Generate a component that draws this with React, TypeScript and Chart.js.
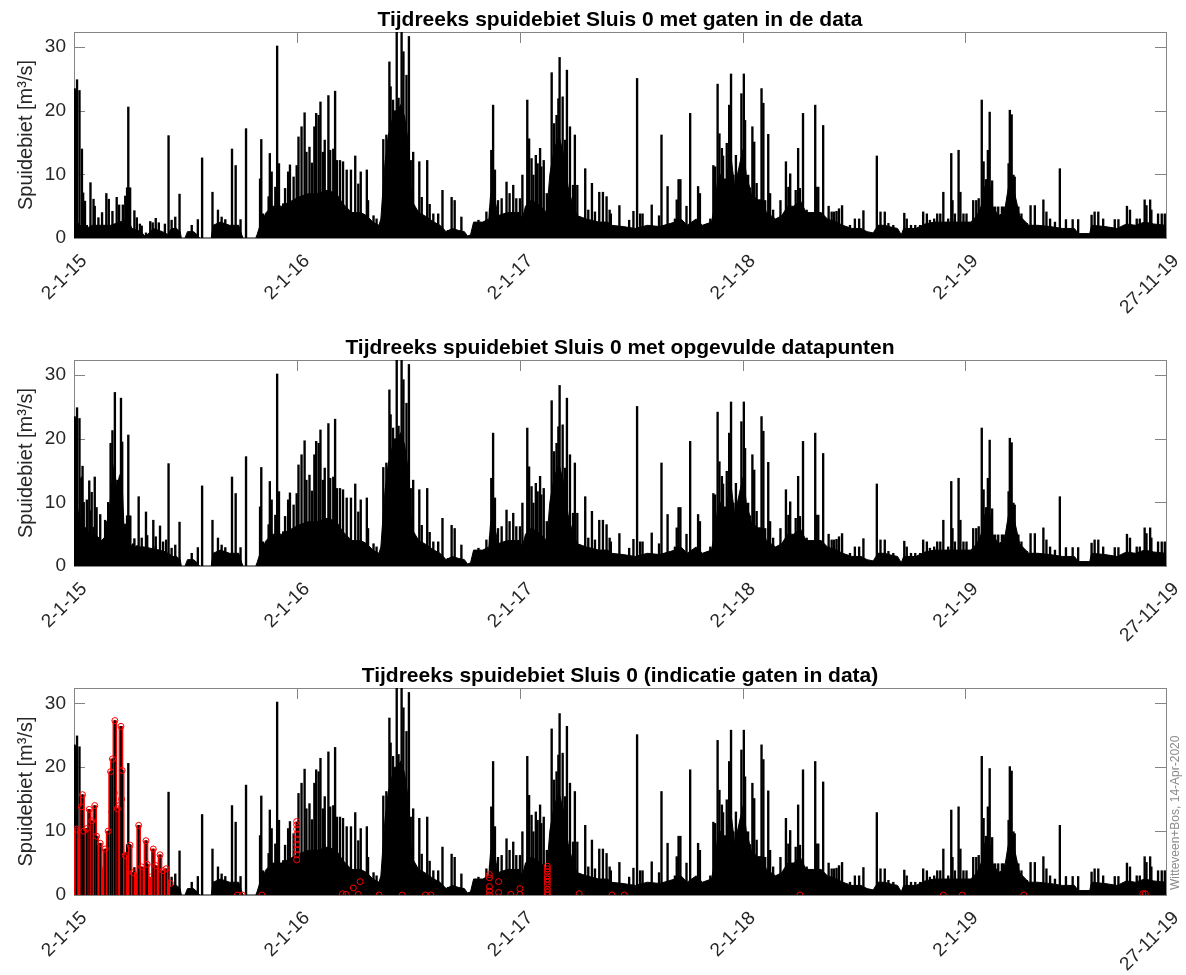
import React, { useEffect, useRef } from 'react';
import { Chart, registerables } from 'chart.js';

Chart.register(...registerables);

const FONT = '"Liberation Sans", Arial, Helvetica, sans-serif';

// x axis: days since 2 Jan 2015
const xTickDays = [0, 365, 731, 1096, 1461, 1790];
const xTickLabels = ['2-1-15', '2-1-16', '2-1-17', '2-1-18', '2-1-19', '27-11-19'];
const yTickValues = [0, 10, 20, 30];
const yMax = 32.4;
const xMax = 1790;

const panelTitles = [
  'Tijdreeks spuidebiet Sluis 0 met gaten in de data',
  'Tijdreeks spuidebiet Sluis 0 met opgevulde datapunten',
  'Tijdreeks spuidebiet Sluis 0 (indicatie gaten in data)',
];
const yAxisTitle = 'Spuidebiet [m³/s]';
const watermarkText = 'Witteveen+Bos, 14-Apr-2020';

type P = [number, number];

// dense "floor" of the series (day, m3/s), shared part from mid-2015 on
const commonBase: P[] = [
  [160, 1.5], [168, 1.5], [174, 1], [176, 0], [182, 0], [186, 1], [196, 1], [202, 0.5], [206, 0], [225, 0],
  [228, 2], [240, 2.5], [255, 2], [270, 2], [275, 0.5], [277, 0], [298, 0], [300, 0.5], [305, 2], [315, 4],
  [325, 5], [340, 5], [350, 5.5], [360, 6], [370, 6.5], [385, 7], [400, 7], [415, 7.5], [430, 7], [440, 5.5],
  [455, 4], [470, 4], [480, 3.5], [490, 2.5], [500, 2], [503, 3], [506, 7], [510, 12], [515, 16], [520, 18],
  [525, 20], [530, 20], [536, 21], [542, 19], [548, 15], [552, 8], [556, 5.5], [565, 4], [575, 3.5], [590, 2.5],
  [600, 2], [610, 1], [620, 1.5], [630, 1.2], [640, 1], [645, 0.3], [650, 0.5], [655, 2.5], [670, 2.5], [680, 3],
  [683, 7], [690, 6], [695, 3.5], [710, 4], [730, 4], [735, 3], [740, 5], [750, 6], [765, 5], [775, 4],
  [780, 10], [787, 14], [795, 16], [803, 13], [810, 8], [818, 5], [825, 3.5], [840, 3], [860, 2.5], [875, 2.5],
  [880, 2], [900, 1.8], [920, 1.5], [940, 2], [960, 1.8], [985, 2.5], [995, 3], [1005, 2], [1020, 3], [1030, 2],
  [1045, 2.5], [1050, 5], [1055, 9], [1060, 10], [1066, 7], [1072, 11], [1078, 12], [1083, 8], [1092, 12], [1097, 14],
  [1102, 10], [1110, 7], [1120, 6], [1128, 6], [1135, 4], [1150, 3], [1160, 3.5], [1170, 5], [1180, 5], [1190, 6],
  [1200, 4], [1215, 4], [1225, 4], [1235, 3], [1250, 2.5], [1260, 2], [1275, 1.5], [1290, 1.5], [1300, 1], [1310, 0.8],
  [1318, 2], [1330, 2], [1335, 1.8], [1350, 1.5], [1356, 0.5], [1360, 1.5], [1380, 1.5], [1395, 2.2], [1410, 2.5], [1425, 2.5],
  [1440, 2.5], [1455, 2.5], [1470, 2.5], [1480, 3.5], [1487, 5], [1492, 8], [1500, 9], [1506, 5], [1515, 3.5], [1525, 4],
  [1530, 7], [1536, 10], [1542, 7], [1550, 3.5], [1565, 2], [1580, 2], [1600, 1.8], [1620, 1.5], [1640, 1.5], [1646, 0.7],
  [1665, 0.7], [1668, 2], [1690, 1.8], [1710, 1.5], [1725, 2.2], [1740, 2], [1755, 2.5], [1770, 2.2], [1790, 2],
];

// early 2015, original data with gaps
const gappedEarlyBase: P[] = [
  [0, 3], [10, 2], [20, 1.5], [30, 2], [45, 2], [60, 2], [75, 2.5], [88, 3], [95, 1.5], [110, 1],
  [116, 0.3], [120, 0.5], [130, 1.5], [145, 1], [155, 0.5], [158, 1.3],
];
// early 2015, after filling the gaps
const filledEarlyBase: P[] = [
  [0, 9], [4, 10], [8, 8], [12, 7], [15, 6], [20, 6], [25, 5], [35, 5], [45, 4], [55, 5],
  [58, 9], [62, 13], [66, 16], [70, 12], [74, 14], [78, 15], [82, 6], [86, 4], [90, 3.5], [100, 3],
  [115, 3], [125, 2.8], [140, 2.5], [150, 2.2], [158, 1.8],
];

// peaks that exist in the original data (early 2015)
const gappedEarlySpikes: P[] = [
  [1, 23.5], [3, 23.3], [5, 24.9], [9, 23.2], [13, 14], [15, 7.1], [18, 5.8], [21, 2], [27, 8.7], [32, 6.1],
  [34, 5], [40, 3.2], [46, 4], [53, 7], [57, 6.1], [63, 4.2], [70, 6.4], [74, 5.2], [80, 5.2], [84, 6.6],
  [87, 7.9], [89, 20.6], [92, 7.9], [99, 4.3], [103, 3.2], [108, 2.2], [111, 1.9], [118, 0.8], [125, 2.6], [129, 2.4],
  [134, 3.1], [139, 2.4], [149, 2.2], [155, 16.1],
];
// peaks added by filling the gaps (early 2015)
const filledEarlySpikes: P[] = [
  [4, 10.3], [12, 13.8], [14, 15.7], [16, 10], [21, 10.4], [25, 13.4], [29, 11.6], [34, 14], [37, 9.2], [43, 8.1],
  [51, 7.2], [56, 10], [60, 19.3], [63, 21.3], [67, 27.3], [71, 13.5], [77, 26.4], [79, 19.5], [84, 6.2], [92, 7.8],
  [97, 3.5], [106, 10.9], [111, 4.4], [118, 8.5], [120, 4.8], [130, 7.2], [134, 4.6], [141, 6.3], [146, 3.8], [151, 4.1],
];

// peaks common to all panels
const commonSpikes: P[] = [
  [160, 2.8], [166, 3.3], [173, 6.9], [193, 2], [203, 2.9], [210, 12.6], [227, 7.2], [236, 4.4], [242, 3.3], [248, 2.9],
  [259, 14], [265, 11.4], [273, 2.9], [282, 17.2], [305, 9.3], [307, 15.5], [310, 3.8], [319, 6.5], [321, 13.3], [324, 10.4],
  [330, 8], [333, 30.2], [336, 11.7], [343, 5.4], [346, 7.8], [351, 10.4], [354, 11.5], [360, 9.6], [365, 11.4], [368, 15.9],
  [373, 17.5], [378, 19.7], [381, 13.5], [386, 14.3], [390, 11.8], [394, 17.5], [397, 19.6], [401, 19.3], [404, 21.4], [408, 13.5],
  [411, 15.4], [417, 22.4], [420, 13.8], [425, 14], [428, 23.1], [431, 12.2], [436, 12.2], [441, 12], [447, 10.7], [454, 10.7],
  [461, 12.9], [466, 8.5], [470, 10.4], [480, 10.7], [482, 5.9], [491, 3.5], [496, 3], [507, 15.5], [512, 16.2], [517, 27.7],
  [519, 23.8], [523, 21.7], [529, 33], [532, 22], [537, 33], [540, 29.3], [545, 25.6], [549, 31.7], [552, 12.2], [556, 13.5],
  [562, 4], [566, 12], [570, 6.4], [579, 12.2], [583, 5.3], [589, 3.8], [597, 3.8], [604, 7.5], [613, 1.2], [619, 6.4],
  [624, 5.9], [635, 3.3], [663, 2.8], [676, 4.1], [682, 4.6], [684, 13.8], [687, 20.9], [690, 10.7], [695, 5.9], [701, 6.2],
  [709, 8.8], [714, 7], [720, 8.3], [725, 6.2], [731, 6.2], [735, 9.9], [743, 21.7], [746, 15.6], [750, 12.5], [753, 9.9],
  [757, 13], [760, 11.7], [764, 14.1], [766, 11.2], [770, 12.2], [775, 7], [783, 26], [787, 18], [791, 19.3], [794, 21.9],
  [796, 28.4], [801, 22.2], [805, 15.4], [808, 26.4], [813, 17.5], [818, 8.3], [821, 16.2], [825, 8.3], [838, 10.9], [843, 4.4],
  [849, 8.6], [854, 4.1], [861, 7.2], [867, 7.2], [873, 6.5], [878, 4.4], [880, 3.8], [894, 5.1], [910, 2.8], [917, 4.2],
  [923, 25.1], [928, 3.8], [932, 3.8], [947, 5.2], [959, 3.5], [963, 16.2], [973, 8.1], [985, 3], [988, 6], [991, 9.2],
  [994, 9.2], [1004, 5], [1010, 19.6], [1023, 8.1], [1026, 7], [1043, 3], [1048, 11.4], [1051, 11.2], [1055, 24.2], [1058, 16.4],
  [1062, 14.1], [1064, 12.9], [1067, 9.3], [1070, 14.9], [1074, 20.9], [1077, 25.8], [1081, 9.9], [1085, 13], [1089, 8.5], [1094, 22.7],
  [1098, 25.8], [1100, 18.5], [1105, 9.9], [1108, 7.9], [1112, 17.5], [1115, 15.1], [1119, 8.6], [1123, 5.9], [1127, 23.5], [1130, 21.2],
  [1133, 5.9], [1138, 16.3], [1141, 7], [1146, 4.4], [1158, 5.9], [1167, 12], [1171, 8], [1174, 10.1], [1183, 7.5], [1187, 14.1],
  [1190, 7.8], [1195, 19.6], [1201, 4.4], [1211, 3.5], [1215, 20.9], [1217, 8], [1220, 8], [1228, 17.7], [1237, 5], [1242, 4.1],
  [1246, 4.1], [1250, 4.2], [1254, 4.6], [1259, 5.1], [1272, 2], [1280, 3], [1287, 3], [1294, 4.3], [1316, 12.9], [1322, 4.1],
  [1329, 4.1], [1335, 2.3], [1343, 2], [1361, 3.9], [1365, 3], [1372, 2], [1379, 2], [1387, 2], [1392, 4.1], [1398, 3.8],
  [1403, 2.8], [1410, 3], [1415, 3.8], [1420, 3.8], [1425, 7.2], [1433, 3], [1438, 13.3], [1440, 5.9], [1444, 3.8], [1450, 13.8],
  [1453, 7.2], [1458, 3.8], [1463, 3.8], [1474, 5.9], [1479, 5.9], [1483, 6.2], [1488, 21.7], [1491, 12], [1495, 9.2], [1498, 13.8],
  [1501, 19.8], [1505, 9], [1510, 4.9], [1515, 4.9], [1521, 4.9], [1524, 4.9], [1532, 11.7], [1534, 20.1], [1537, 19.4], [1540, 9.9],
  [1542, 9.6], [1548, 4.9], [1553, 3.8], [1562, 2.3], [1568, 5.1], [1575, 5.1], [1589, 6], [1594, 4.1], [1600, 3], [1608, 2.5],
  [1616, 10.9], [1626, 2.9], [1637, 2.9], [1646, 2.9], [1668, 3.6], [1673, 4.1], [1679, 4.1], [1687, 3], [1706, 2.9], [1712, 2.9],
  [1726, 5], [1731, 4.4], [1742, 3], [1747, 3], [1755, 6], [1758, 5.1], [1764, 6], [1766, 4.4], [1777, 3.8], [1783, 3.8],
  [1788, 3.8],
];

// isolated filled points outside the early-2015 gap (red circles, bottom panel)
const filledMarkers: P[] = [
  [268, 0], [276, 0], [308, 0], [365, 5.5], [365, 6.3], [365, 7.1], [365, 7.9], [365, 8.7], [365, 9.5], [365, 10.3],
  [365, 11], [365, 11.5], [440, 0.2], [446, 0.1], [458, 1.1], [466, 0.1], [469, 2.1], [500, 0], [538, 0], [576, 0],
  [585, 0], [681, 0], [681, 0.6], [681, 1.3], [681, 2.7], [681, 3.2], [696, 2.1], [696, 0.4], [716, 0.1], [731, 1],
  [731, 0.1], [776, 0], [776, 0.4], [776, 0.9], [776, 1.5], [776, 2], [776, 2.5], [776, 3], [776, 3.6], [776, 4.1],
  [776, 4.5], [828, 0.2], [882, 0], [902, 0], [1190, 0], [1425, 0], [1456, 0], [1557, 0], [1752, 0.2], [1756, 0.2],
];

const toXY = (arr: P[]) => arr.map(([x, y]) => ({ x, y }));

const axesBox = {
  id: 'axesBox',
  beforeDatasetsDraw(chart: any) {
    const { ctx, chartArea: a, scales } = chart;
    ctx.save();
    ctx.strokeStyle = '#858585';
    ctx.lineWidth = 1;
    ctx.beginPath();
    for (const v of yTickValues) {
      if (v === 0) continue;
      const py = Math.round(scales.y.getPixelForValue(v)) + 0.5;
      ctx.moveTo(a.left, py);
      ctx.lineTo(a.left + 11, py);
      ctx.moveTo(a.right, py);
      ctx.lineTo(a.right - 11, py);
    }
    for (const d of xTickDays) {
      const px = Math.round(scales.x.getPixelForValue(d)) + 0.5;
      ctx.moveTo(px, a.top);
      ctx.lineTo(px, a.top + 11);
    }
    ctx.stroke();
    ctx.strokeRect(Math.round(a.left) + 0.5, Math.round(a.top) + 0.5, Math.round(a.right - a.left), Math.round(a.bottom - a.top));
    ctx.restore();
  },
};

const watermark = {
  id: 'watermark',
  afterDraw(chart: any) {
    const opts = chart.options.plugins.watermark;
    if (!opts || !opts.text) return;
    const { ctx, chartArea: a } = chart;
    ctx.save();
    ctx.font = '12px ' + FONT;
    ctx.fillStyle = '#8c8c8c';
    ctx.translate(a.right + 10, a.bottom - 5);
    ctx.rotate(-Math.PI / 2);
    ctx.textAlign = 'left';
    ctx.textBaseline = 'middle';
    ctx.fillText(opts.text, 0, 0);
    ctx.restore();
  },
};

function baseDataset(base: P[], color: string, order: number, markers: boolean): any {
  return {
    type: 'line',
    data: toXY(base),
    borderColor: color,
    backgroundColor: color,
    borderWidth: 1,
    pointRadius: markers ? 3 : 0,
    pointBorderColor: color,
    pointBackgroundColor: 'rgba(0,0,0,0)',
    pointBorderWidth: 1,
    fill: 'origin',
    order,
  };
}

function spikeDataset(spikes: P[], color: string, thickness: number, order: number): any {
  return {
    type: 'bar',
    data: toXY(spikes),
    backgroundColor: color,
    barThickness: thickness,
    grouped: false,
    order,
  };
}

function buildDatasets(panel: number): any[] {
  if (panel === 0) {
    return [
      baseDataset([...gappedEarlyBase, ...commonBase], '#000', 10, false),
      spikeDataset([...gappedEarlySpikes, ...commonSpikes], '#000', 1.7, 7),
    ];
  }
  if (panel === 1) {
    return [
      baseDataset([...filledEarlyBase, ...commonBase], '#000', 10, false),
      spikeDataset([...gappedEarlySpikes, ...filledEarlySpikes, ...commonSpikes], '#000', 1.7, 7),
    ];
  }
  // bottom panel: black = measured data, red = filled-in data (red drawn over black)
  return [
    baseDataset([...gappedEarlyBase, ...commonBase], '#000', 10, false),
    spikeDataset([...gappedEarlySpikes, ...commonSpikes], '#000', 1.7, 8),
    baseDataset(filledEarlyBase, '#ff0000', 4, true),
    spikeDataset(filledEarlySpikes, '#ff0000', 4, 3),
    spikeDataset(filledEarlySpikes, '#000', 1, 2),
    {
      type: 'line',
      data: toXY([...filledEarlySpikes, ...filledMarkers]),
      showLine: false,
      pointRadius: 3,
      pointBorderColor: '#ff0000',
      pointBackgroundColor: 'rgba(0,0,0,0)',
      pointBorderWidth: 1,
      order: 1,
    },
  ];
}

function buildConfig(panel: number, height: number): any {
  const chartBottom = panel === 2 ? 239 : 238;
  return {
    type: 'bar',
    data: { datasets: buildDatasets(panel) },
    options: {
      animation: false,
      responsive: false,
      events: [],
      layout: { padding: { left: 0, right: 20, top: 0, bottom: 0 } },
      plugins: {
        legend: { display: false },
        tooltip: { enabled: false },
        filler: { drawTime: 'beforeDatasetDraw', propagate: false },
        title: {
          display: true,
          text: panelTitles[panel],
          fullSize: false,
          color: '#000',
          font: { family: FONT, size: 21, weight: 'bold', lineHeight: 1 },
          padding: { top: 9.5, bottom: 1.5 },
        },
        watermark: { text: panel === 2 ? watermarkText : '' },
      },
      scales: {
        x: {
          type: 'linear',
          min: 0,
          max: xMax,
          offset: false,
          grid: { display: false, drawTicks: false },
          border: { display: false },
          afterBuildTicks: (s: any) => {
            s.ticks = xTickDays.map((v) => ({ value: v }));
          },
          afterFit: (s: any) => {
            s.height = height - chartBottom;
            s.paddingLeft = 0;
            s.paddingRight = 0;
          },
          ticks: {
            autoSkip: false,
            minRotation: 45,
            maxRotation: 45,
            padding: 12,
            labelOffset: 10,
            color: '#262626',
            font: { family: FONT, size: 19 },
            callback: (v: number) => {
              const i = xTickDays.indexOf(v);
              return i >= 0 ? xTickLabels[i] : '';
            },
          },
        },
        y: {
          type: 'linear',
          min: 0,
          max: yMax,
          grid: { display: false, drawTicks: false },
          border: { display: false },
          afterBuildTicks: (s: any) => {
            s.ticks = yTickValues.map((v) => ({ value: v }));
          },
          afterFit: (s: any) => {
            s.width = 74;
            s.paddingTop = 0;
            s.paddingBottom = 0;
          },
          ticks: {
            padding: 8,
            color: '#262626',
            font: { family: FONT, size: 19 },
            callback: (v: number) => String(v),
          },
          title: {
            display: true,
            text: yAxisTitle,
            color: '#262626',
            font: { family: FONT, size: 20 },
            padding: { top: 14, bottom: 0 },
          },
        },
      },
    },
    plugins: [axesBox, watermark],
  };
}

const panelTops = [0, 328, 656];
const panelHeights = [328, 328, 319];

function Panel({ index }: { index: number }) {
  const ref = useRef<HTMLCanvasElement | null>(null);
  useEffect(() => {
    if (!ref.current) return;
    const chart = new Chart(ref.current, buildConfig(index, panelHeights[index]));
    return () => chart.destroy();
  }, [index]);
  return (
    <canvas
      ref={ref}
      width={1186}
      height={panelHeights[index]}
      style={{ position: 'absolute', left: 0, top: panelTops[index], width: 1186, height: panelHeights[index] }}
    />
  );
}

export default function App() {
  return (
    <div style={{ position: 'absolute', left: 0, top: 0, width: 1186, height: 975, background: '#fff' }}>
      <Panel index={0} />
      <Panel index={1} />
      <Panel index={2} />
    </div>
  );
}
